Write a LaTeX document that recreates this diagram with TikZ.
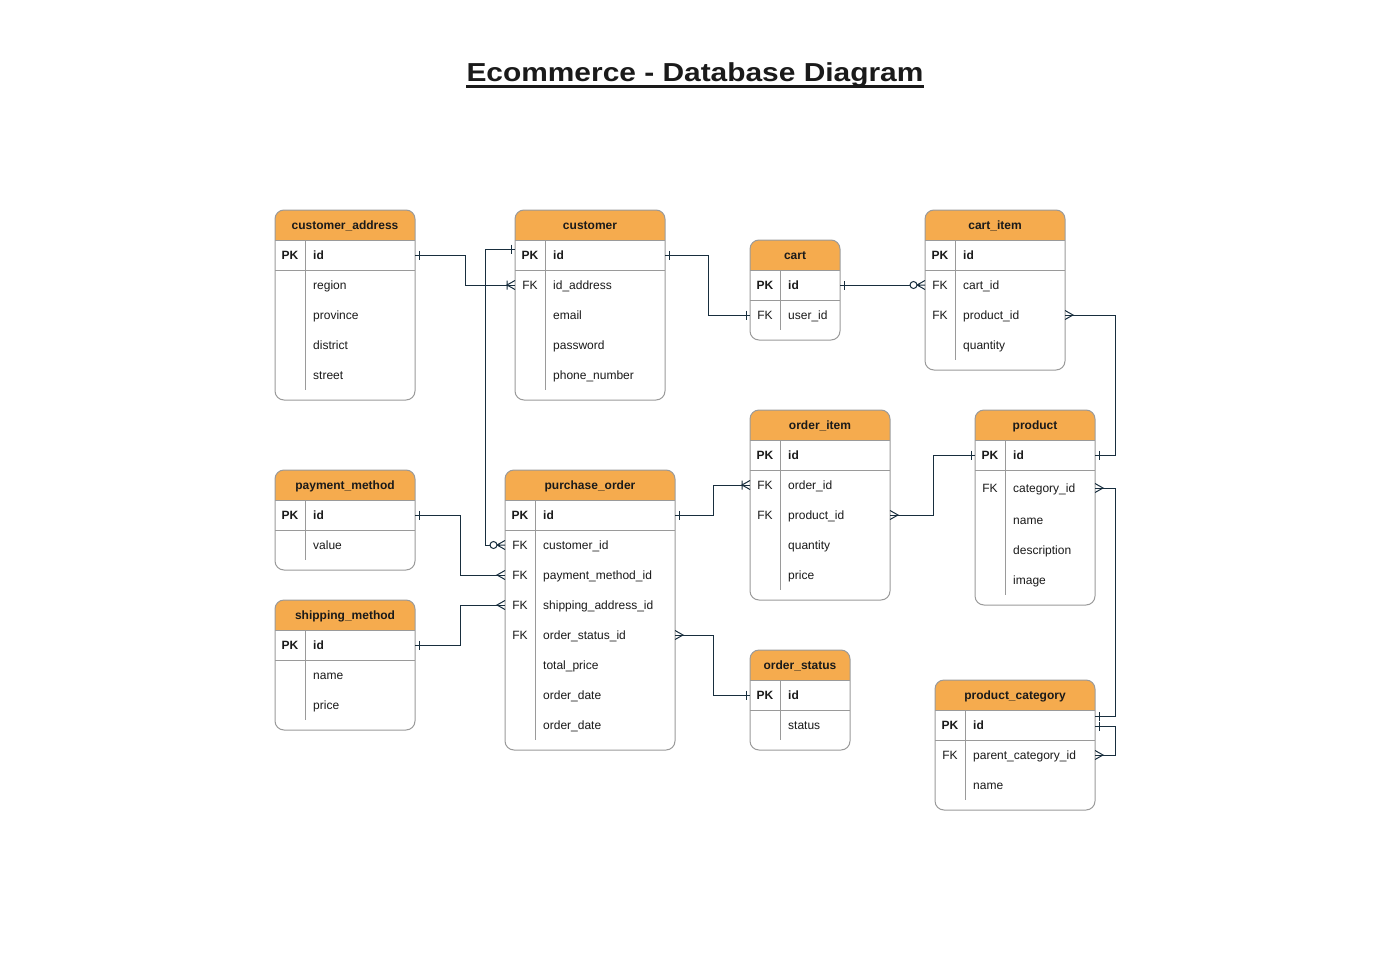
\documentclass[tikz,border=0pt]{standalone}
\usepackage{fontspec}
\setmainfont{Liberation Sans}
\usepackage{graphicx}
\usepackage{tikz}
\usetikzlibrary{arrows.meta}

\definecolor{hdrorange}{HTML}{F5AB4E}
\definecolor{tblgray}{HTML}{9A9A9A}
\definecolor{linknavy}{HTML}{182E3E}
\definecolor{inkgray}{HTML}{1A1A1A}

% crow's foot tips
\pgfdeclarearrow{
  name = erone,
  setup code = {
    \pgfarrowssettipend{0pt}
    \pgfarrowssetlineend{0pt}
    \pgfarrowssetbackend{-5pt}
    \pgfarrowshullpoint{0pt}{4.5pt}
    \pgfarrowshullpoint{0pt}{-4.5pt}
    \pgfarrowshullpoint{-5pt}{4.5pt}
    \pgfarrowshullpoint{-5pt}{-4.5pt}
  },
  drawing code = {
    \pgfpathmoveto{\pgfqpoint{-4pt}{4.5pt}}
    \pgfpathlineto{\pgfqpoint{-4pt}{-4.5pt}}
    \pgfusepathqstroke
  }
}
\pgfdeclarearrow{
  name = ermany,
  setup code = {
    \pgfarrowssettipend{0pt}
    \pgfarrowssetlineend{0pt}
    \pgfarrowssetbackend{-8pt}
    \pgfarrowshullpoint{0pt}{4.5pt}
    \pgfarrowshullpoint{0pt}{-4.5pt}
    \pgfarrowshullpoint{-8pt}{0pt}
  },
  drawing code = {
    \pgfpathmoveto{\pgfqpoint{0pt}{4.5pt}}
    \pgfpathlineto{\pgfqpoint{-8pt}{0pt}}
    \pgfpathlineto{\pgfqpoint{0pt}{-4.5pt}}
    \pgfusepathqstroke
  }
}
\pgfdeclarearrow{
  name = eronemany,
  setup code = {
    \pgfarrowssettipend{0pt}
    \pgfarrowssetlineend{0pt}
    \pgfarrowssetbackend{-9pt}
    \pgfarrowshullpoint{0pt}{4.5pt}
    \pgfarrowshullpoint{0pt}{-4.5pt}
    \pgfarrowshullpoint{-9pt}{4.5pt}
    \pgfarrowshullpoint{-9pt}{-4.5pt}
  },
  drawing code = {
    \pgfpathmoveto{\pgfqpoint{0pt}{4.5pt}}
    \pgfpathlineto{\pgfqpoint{-8pt}{0pt}}
    \pgfpathlineto{\pgfqpoint{0pt}{-4.5pt}}
    \pgfpathmoveto{\pgfqpoint{-8pt}{4.5pt}}
    \pgfpathlineto{\pgfqpoint{-8pt}{-4.5pt}}
    \pgfusepathqstroke
  }
}
\pgfdeclarearrow{
  name = erzeromany,
  setup code = {
    \pgfarrowssettipend{0pt}
    \pgfarrowssetlineend{-15pt}
    \pgfarrowssetbackend{-15pt}
    \pgfarrowshullpoint{0pt}{4.5pt}
    \pgfarrowshullpoint{0pt}{-4.5pt}
    \pgfarrowshullpoint{-15pt}{4pt}
    \pgfarrowshullpoint{-15pt}{-4pt}
  },
  drawing code = {
    \pgfpathmoveto{\pgfqpoint{0pt}{4.5pt}}
    \pgfpathlineto{\pgfqpoint{-8pt}{0pt}}
    \pgfpathlineto{\pgfqpoint{0pt}{-4.5pt}}
    \pgfpathmoveto{\pgfqpoint{-8pt}{0pt}}
    \pgfpathlineto{\pgfqpoint{0pt}{0pt}}
    \pgfusepathqstroke
    \pgfpathcircle{\pgfqpoint{-11.5pt}{0pt}}{3.5pt}
    \pgfsetfillcolor{white}
    \pgfusepathqfillstroke
  }
}

\begin{document}
\begin{tikzpicture}[x=1pt, y=-1pt,
  tblline/.style={draw=tblgray, line width=1pt},
  hdrtext/.style={font=\fontsize{12}{14}\selectfont\bfseries, text=inkgray, inner sep=0, text height=8.7pt, text depth=0pt},
  rowtext/.style={font=\fontsize{12}{14}\selectfont, text=inkgray, inner sep=0, text height=8.7pt, text depth=0pt},
  pktext/.style={rowtext, font=\fontsize{12}{14}\selectfont\bfseries},
  rowedge/.style={inner sep=0, outer sep=0, minimum height=1pt},
  link/.style={draw=linknavy, line width=1pt}]
	\fill[white] (0,0) rectangle (1390,980);
	\useasboundingbox (0,0) rectangle (1390,980);
	\node[font=\fontsize{26}{30}\selectfont\bfseries, text=inkgray, inner sep=0, anchor=base] (title) at (695,81) {\scalebox{1.15}[1]{Ecommerce - Database Diagram}};
	\draw[inkgray, line width=2.2pt] ([yshift=-5.5pt]title.base west) -- ([yshift=-5.5pt]title.base east);
	% tables: name/x/y/width/height/title
	\foreach \n/\x/\y/\w/\h/\t in {ca/275/210/140/190/customer\_address, cu/515/210/150/190/customer,
	    ct/750/240/90/100/cart, ci/925/210/140/160/cart\_item, pm/275/470/140/100/payment\_method,
	    sm/275/600/140/130/shipping\_method, po/505/470/170/280/purchase\_order, oi/750/410/140/190/order\_item,
	    pr/975/410/120/195/product, os/750/650/100/100/order\_status, pc/935/680/160/130/product\_category}{
	  \fill[white, rounded corners=9] (\x,\y) rectangle ++(\w,\h);
	  \begin{scope}
	    \clip[rounded corners=9] (\x,\y) rectangle ++(\w,\h);
	    \fill[hdrorange] (\x,\y) rectangle ++(\w,30);
	  \end{scope}
	  \draw[tblline, rounded corners=9] (\x,\y) rectangle ++(\w,\h);
	  \draw[tblline] (\x,\y+30) -- ++(\w,0) (\x,\y+60) -- ++(\w,0) (\x+30,\y+30) -- (\x+30,\y+\h-10);
	  \node[hdrtext] (\n) at (\x+\w/2,\y+15.5) {\t};
	}
	% primary keys: row/x/width/y
	\foreach \r/\x/\w/\y in {ca-id/275/140/255, cu-id/515/150/255, ct-id/750/90/285, ci-id/925/140/255,
	    pm-id/275/140/515, sm-id/275/140/645, po-id/505/170/515, oi-id/750/140/455,
	    pr-id/975/120/455, os-id/750/100/695, pc-id/935/160/725}{
	  \node[rowedge, minimum width=\w] (\r) at (\x+\w/2,\y) {};
	  \node[pktext] (\r-key) at (\x+15,\y+0.5) {PK};
	  \node[pktext, anchor=west] (\r-txt) at (\x+38,\y+0.5) {id};
	}
	% other rows: row/x/width/y/key/field
	\foreach \r/\x/\w/\y/\k/\f in {ca-region/275/140/285//region, ca-prov/275/140/315//province,
	    ca-dist/275/140/345//district, ca-street/275/140/375//street,
	    cu-addr/515/150/285/FK/id\_address, cu-email/515/150/315//email,
	    cu-pass/515/150/345//password, cu-phone/515/150/375//phone\_number,
	    ct-user/750/90/315/FK/user\_id,
	    ci-cart/925/140/285/FK/cart\_id, ci-prod/925/140/315/FK/product\_id, ci-qty/925/140/345//quantity,
	    pm-value/275/140/545//value,
	    sm-name/275/140/675//name, sm-price/275/140/705//price,
	    po-cust/505/170/545/FK/customer\_id, po-pay/505/170/575/FK/payment\_method\_id,
	    po-ship/505/170/605/FK/shipping\_address\_id, po-status/505/170/635/FK/order\_status\_id,
	    po-total/505/170/665//total\_price, po-date/505/170/695//order\_date, po-date2/505/170/725//order\_date,
	    oi-order/750/140/485/FK/order\_id, oi-prod/750/140/515/FK/product\_id,
	    oi-qty/750/140/545//quantity, oi-price/750/140/575//price,
	    pr-cat/975/120/488/FK/category\_id, pr-name/975/120/520//name,
	    pr-desc/975/120/550//description, pr-image/975/120/580//image,
	    os-status/750/100/725//status,
	    pc-parent/935/160/755/FK/parent\_category\_id, pc-name/935/160/785//name}{
	  \node[rowedge, minimum width=\w] (\r) at (\x+\w/2,\y) {};
	  \node[rowtext] (\r-key) at (\x+15,\y+0.5) {\k};
	  \node[rowtext, anchor=west] (\r-txt) at (\x+38,\y+0.5) {\f};
	}
	% relations
	\draw[link, erone-eronemany] (ca-id.east) -- ++(50,0) |- (cu-addr.west);
	\draw[link, erone-erzeromany] ([yshift=6pt]cu-id.west) -- ++(-30,0) |- (po-cust.west);
	\draw[link, erone-erone] (cu-id.east) -- ++(43,0) |- (ct-user.west);
	\draw[link, erone-erzeromany] (ct-id.east) -- (ci-cart.west);
	\draw[link, ermany-erone] (ci-prod.east) -- ++(50,0) |- (pr-id.east);
	\draw[link, erone-eronemany] (po-id.east) -- ++(38,0) |- (oi-order.west);
	\draw[link, ermany-erone] (oi-prod.east) -- ++(43,0) |- (pr-id.west);
	\draw[link, erone-ermany] (pm-id.east) -- ++(45,0) |- (po-pay.west);
	\draw[link, erone-ermany] (sm-id.east) -- ++(45,0) |- (po-ship.west);
	\draw[link, ermany-erone] (po-status.east) -- ++(38,0) |- (os-id.west);
	\draw[link, ermany-erone] (pr-cat.east) -- ++(20,0) |- ([yshift=9pt]pc-id.east);
	\draw[link, ermany-erone] (pc-parent.east) -- ++(20,0) |- ([yshift=-1pt]pc-id.east);
\end{tikzpicture}
\end{document}
